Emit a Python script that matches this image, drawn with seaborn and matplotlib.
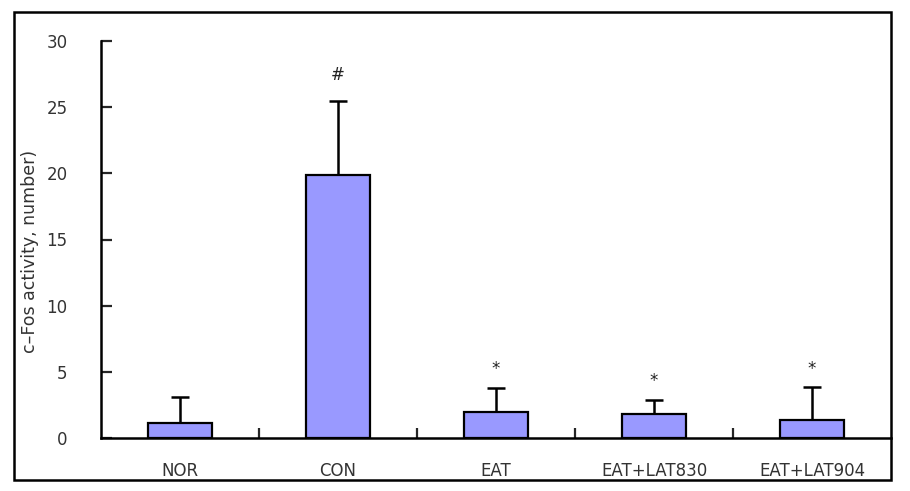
import matplotlib
matplotlib.use("Agg")
import matplotlib.pyplot as plt
import seaborn as sns
import pandas as pd
from matplotlib.patches import Rectangle

categories = ["NOR", "CON", "EAT", "EAT+LAT830", "EAT+LAT904"]
means = [1.13, 19.9, 1.97, 1.81, 1.36]
errors = [1.97, 5.55, 1.81, 1.06, 2.49]
marks = ["", "#", "*", "*", "*"]
mark_y = [None, 27.4, 5.2, 4.3, 5.2]
yticks = [0, 5, 10, 15, 20, 25, 30]

sns.set_theme(style="white")
plt.rcParams['font.family'] = ['DejaVu Sans']

df = pd.DataFrame({"group": categories, "value": means})

fig = plt.figure(figsize=(9.1, 4.91), dpi=100)
ax = fig.add_axes([101/910, 1-438/491, 790/910, 397/491])

sns.barplot(data=df, x="group", y="value", order=categories, color="#9999FF",
            saturation=1, width=0.4, edgecolor="black", linewidth=1.6,
            errorbar=None, ax=ax, zorder=2)
ax.errorbar(range(len(categories)), means, yerr=[[0]*len(errors), errors],
            fmt="none", ecolor="black", elinewidth=1.8, capsize=6.5,
            capthick=1.8, zorder=1)

for i, (m, yv) in enumerate(zip(marks, mark_y)):
    if m:
        ax.text(i, yv, m, ha="center", va="center", fontsize=12, color="#222222")

ax.set_ylim(0, 30)
ax.set_xlim(-0.5, len(categories) - 0.5)
ax.set_yticks(yticks)
ax.set_yticklabels([str(t) for t in yticks], fontsize=12, color="#333333")
ax.set_xticks(range(len(categories)))
ax.set_xticklabels(categories, fontsize=12, color="#333333")
ax.tick_params(axis="y", direction="in", length=8, width=1.6, pad=24, left=True)
ax.tick_params(axis="x", length=0, pad=17)
ax.set_xticks([k + 0.5 for k in range(len(categories) - 1)], minor=True)
ax.tick_params(axis="x", which="minor", direction="in", length=7, width=1.6, bottom=True)

ax.set_xlabel("")
ax.set_ylabel("c–Fos activity, number)", fontsize=12.5, color="#333333")
ax.yaxis.set_label_coords(-0.078, 0.47)

for s in ["top", "right"]:
    ax.spines[s].set_visible(False)
for s in ["left", "bottom"]:
    ax.spines[s].set_color("black")
    ax.spines[s].set_linewidth(1.8)

fig.add_artist(Rectangle((14/910, 1-480/491), (891-14)/910, (480-12)/491,
                         transform=fig.transFigure, fill=False,
                         edgecolor="black", linewidth=1.8))

fig.savefig("out.png", dpi=100)
